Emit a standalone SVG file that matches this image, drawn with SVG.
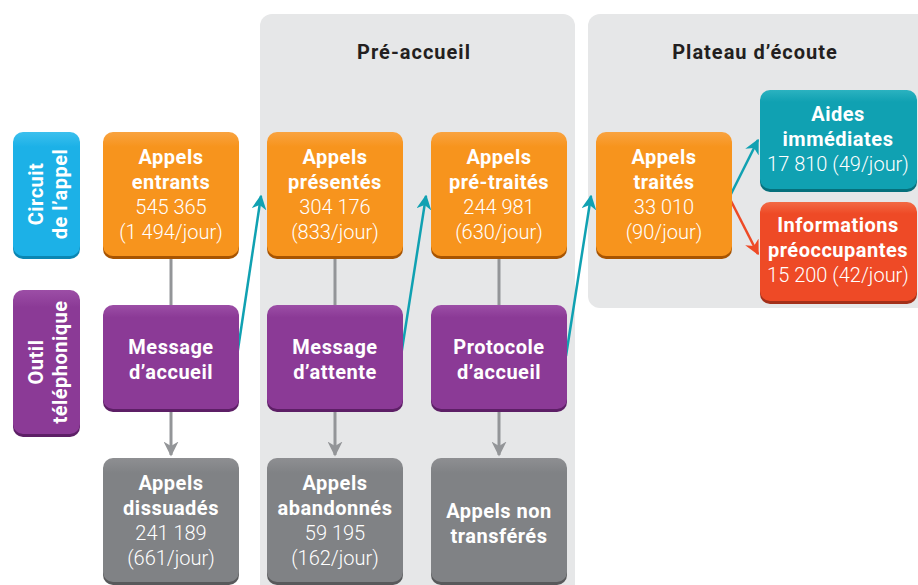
<svg xmlns="http://www.w3.org/2000/svg" width="918" height="585" viewBox="0 0 918 585">
<defs>
<style>
.t{font-family:Roboto,"Liberation Sans",sans-serif;fill:#fff;text-anchor:middle;font-size:20px}
.b{font-weight:bold;letter-spacing:0.5px}
.n{font-weight:300}
.h{font-family:Roboto,"Liberation Sans",sans-serif;fill:#231f20;text-anchor:middle;font-size:20px;font-weight:bold;letter-spacing:1px}
.panel{fill:#e6e7e8}
.gl{stroke:#939598;stroke-width:3;fill:none}
.tl{stroke:#10a1b2;stroke-width:2.5;fill:none}
.rl{stroke:#ee4a26;stroke-width:2.5;fill:none}
</style>
<linearGradient id="gO" x1="0" y1="0" x2="0" y2="1"><stop offset="0" stop-color="#f9a340"/><stop offset="0.12" stop-color="#f7941d"/><stop offset="1" stop-color="#f7941d"/></linearGradient>
<linearGradient id="gP" x1="0" y1="0" x2="0" y2="1"><stop offset="0" stop-color="#9c4ea6"/><stop offset="0.12" stop-color="#8b3a96"/><stop offset="1" stop-color="#8b3a96"/></linearGradient>
<linearGradient id="gG" x1="0" y1="0" x2="0" y2="1"><stop offset="0" stop-color="#8e8f92"/><stop offset="0.12" stop-color="#808285"/><stop offset="1" stop-color="#808285"/></linearGradient>
<linearGradient id="gB" x1="0" y1="0" x2="0" y2="1"><stop offset="0" stop-color="#3cc0ee"/><stop offset="0.12" stop-color="#1cb1e7"/><stop offset="1" stop-color="#1cb1e7"/></linearGradient>
<linearGradient id="gT" x1="0" y1="0" x2="0" y2="1"><stop offset="0" stop-color="#2bb2c0"/><stop offset="0.12" stop-color="#10a1b2"/><stop offset="1" stop-color="#10a1b2"/></linearGradient>
<linearGradient id="gR" x1="0" y1="0" x2="0" y2="1"><stop offset="0" stop-color="#f26a45"/><stop offset="0.12" stop-color="#ee4a26"/><stop offset="1" stop-color="#ee4a26"/></linearGradient>
<marker id="aG" viewBox="0 0 10 10" refX="9" refY="5" markerWidth="5" markerHeight="5" orient="auto" markerUnits="strokeWidth"><path d="M0,0 L10,5 L0,10 L3,5 z" fill="#939598"/></marker>
<marker id="aT" viewBox="0 0 10 10" refX="9" refY="5" markerWidth="6" markerHeight="6" orient="auto" markerUnits="strokeWidth"><path d="M0,0 L10,5 L0,10 L3,5 z" fill="#10a1b2"/></marker>
<marker id="aR" viewBox="0 0 10 10" refX="9" refY="5" markerWidth="6" markerHeight="6" orient="auto" markerUnits="strokeWidth"><path d="M0,0 L10,5 L0,10 L3,5 z" fill="#ee4a26"/></marker>
</defs>
<rect width="918" height="585" fill="#fff"/>
<g id="panels">
<rect class="panel" x="260" y="14" width="315" height="590" rx="12"/>
<rect class="panel" x="588" y="14" width="342" height="294" rx="12"/>
<text class="h" x="414" y="59">Pré-accueil</text>
<text class="h" x="755" y="59">Plateau d’écoute</text>
</g>
<g id="connectors">
<line class="gl" x1="171" y1="257" x2="171" y2="305"/>
<line class="gl" x1="335" y1="257" x2="335" y2="305"/>
<line class="gl" x1="499" y1="257" x2="499" y2="305"/>
<line class="gl" x1="171" y1="410" x2="171" y2="455" marker-end="url(#aG)"/>
<line class="gl" x1="335" y1="410" x2="335" y2="455" marker-end="url(#aG)"/>
<line class="gl" x1="499" y1="410" x2="499" y2="455" marker-end="url(#aG)"/>
<line class="tl" x1="237" y1="356" x2="261" y2="196" marker-end="url(#aT)"/>
<line class="tl" x1="401" y1="356" x2="426" y2="196" marker-end="url(#aT)"/>
<line class="tl" x1="566" y1="356" x2="591" y2="196" marker-end="url(#aT)"/>
<line class="tl" x1="730" y1="196" x2="758" y2="140" marker-end="url(#aT)"/>
<line class="rl" x1="730" y1="199" x2="758" y2="254" marker-end="url(#aR)"/>
</g>
<g id="side-circuit">
<rect x="13" y="135" width="67" height="124" rx="10" fill="#0a86b3"/>
<rect x="13" y="132" width="67" height="124" rx="10" fill="url(#gB)"/>
<text class="t b" transform="translate(46,194) rotate(-90)"><tspan x="0" y="-3">Circuit</tspan><tspan x="0" y="21">de l’appel</tspan></text>
</g>
<g id="side-outil">
<rect x="13" y="293" width="67" height="144" rx="10" fill="#5d1f66"/>
<rect x="13" y="290" width="67" height="144" rx="10" fill="url(#gP)"/>
<text class="t b" transform="translate(46,362) rotate(-90)"><tspan x="0" y="-3">Outil</tspan><tspan x="0" y="21">téléphonique</tspan></text>
</g>
<g id="appels-entrants">
<rect x="103" y="135" width="136" height="124" rx="10" fill="#a85400"/>
<rect x="103" y="132" width="136" height="124" rx="10" fill="url(#gO)"/>
<text class="t"><tspan class="b" x="171" y="164">Appels</tspan><tspan class="b" x="171" y="189">entrants</tspan><tspan class="n" x="171" y="214">545 365</tspan><tspan class="n" x="171" y="239">(1 494/jour)</tspan></text>
</g>
<g id="appels-presentes">
<rect x="267" y="135" width="136" height="124" rx="10" fill="#a85400"/>
<rect x="267" y="132" width="136" height="124" rx="10" fill="url(#gO)"/>
<text class="t"><tspan class="b" x="335" y="164">Appels</tspan><tspan class="b" x="335" y="189">présentés</tspan><tspan class="n" x="335" y="214">304 176</tspan><tspan class="n" x="335" y="239">(833/jour)</tspan></text>
</g>
<g id="appels-pretraites">
<rect x="431" y="135" width="136" height="124" rx="10" fill="#a85400"/>
<rect x="431" y="132" width="136" height="124" rx="10" fill="url(#gO)"/>
<text class="t"><tspan class="b" x="499" y="164">Appels</tspan><tspan class="b" x="499" y="189">pré-traités</tspan><tspan class="n" x="499" y="214">244 981</tspan><tspan class="n" x="499" y="239">(630/jour)</tspan></text>
</g>
<g id="appels-traites">
<rect x="596" y="135" width="136" height="124" rx="10" fill="#a85400"/>
<rect x="596" y="132" width="136" height="124" rx="10" fill="url(#gO)"/>
<text class="t"><tspan class="b" x="664" y="164">Appels</tspan><tspan class="b" x="664" y="189">traités</tspan><tspan class="n" x="664" y="214">33 010</tspan><tspan class="n" x="664" y="239">(90/jour)</tspan></text>
</g>
<g id="aides">
<rect x="760" y="93" width="157" height="99" rx="10" fill="#06707c"/>
<rect x="760" y="90" width="157" height="99" rx="10" fill="url(#gT)"/>
<text class="t"><tspan class="b" x="838" y="121">Aides</tspan><tspan class="b" x="838" y="146">immédiates</tspan><tspan class="n" x="838" y="171">17 810 (49/jour)</tspan></text>
</g>
<g id="informations">
<rect x="760" y="205" width="157" height="99" rx="10" fill="#a3301a"/>
<rect x="760" y="202" width="157" height="99" rx="10" fill="url(#gR)"/>
<text class="t"><tspan class="b" x="838" y="232">Informations</tspan><tspan class="b" x="838" y="257">préoccupantes</tspan><tspan class="n" x="838" y="282">15 200 (42/jour)</tspan></text>
</g>
<g id="message-accueil">
<rect x="103" y="308" width="136" height="104" rx="10" fill="#5d1f66"/>
<rect x="103" y="305" width="136" height="104" rx="10" fill="url(#gP)"/>
<text class="t b"><tspan x="171" y="354">Message</tspan><tspan x="171" y="379">d’accueil</tspan></text>
</g>
<g id="message-attente">
<rect x="267" y="308" width="136" height="104" rx="10" fill="#5d1f66"/>
<rect x="267" y="305" width="136" height="104" rx="10" fill="url(#gP)"/>
<text class="t b"><tspan x="335" y="354">Message</tspan><tspan x="335" y="379">d’attente</tspan></text>
</g>
<g id="protocole-accueil">
<rect x="431" y="308" width="136" height="104" rx="10" fill="#5d1f66"/>
<rect x="431" y="305" width="136" height="104" rx="10" fill="url(#gP)"/>
<text class="t b"><tspan x="499" y="354">Protocole</tspan><tspan x="499" y="379">d’accueil</tspan></text>
</g>
<g id="appels-dissuades">
<rect x="103" y="461" width="136" height="124" rx="10" fill="#58595b"/>
<rect x="103" y="458" width="136" height="124" rx="10" fill="url(#gG)"/>
<text class="t"><tspan class="b" x="171" y="490">Appels</tspan><tspan class="b" x="171" y="515">dissuadés</tspan><tspan class="n" x="171" y="540">241 189</tspan><tspan class="n" x="171" y="565">(661/jour)</tspan></text>
</g>
<g id="appels-abandonnes">
<rect x="267" y="461" width="136" height="124" rx="10" fill="#58595b"/>
<rect x="267" y="458" width="136" height="124" rx="10" fill="url(#gG)"/>
<text class="t"><tspan class="b" x="335" y="490">Appels</tspan><tspan class="b" x="335" y="515">abandonnés</tspan><tspan class="n" x="335" y="540">59 195</tspan><tspan class="n" x="335" y="565">(162/jour)</tspan></text>
</g>
<g id="appels-non-transferes">
<rect x="431" y="461" width="136" height="124" rx="10" fill="#58595b"/>
<rect x="431" y="458" width="136" height="124" rx="10" fill="url(#gG)"/>
<text class="t b"><tspan x="499" y="518">Appels non</tspan><tspan x="499" y="543">transférés</tspan></text>
</g>
</svg>
